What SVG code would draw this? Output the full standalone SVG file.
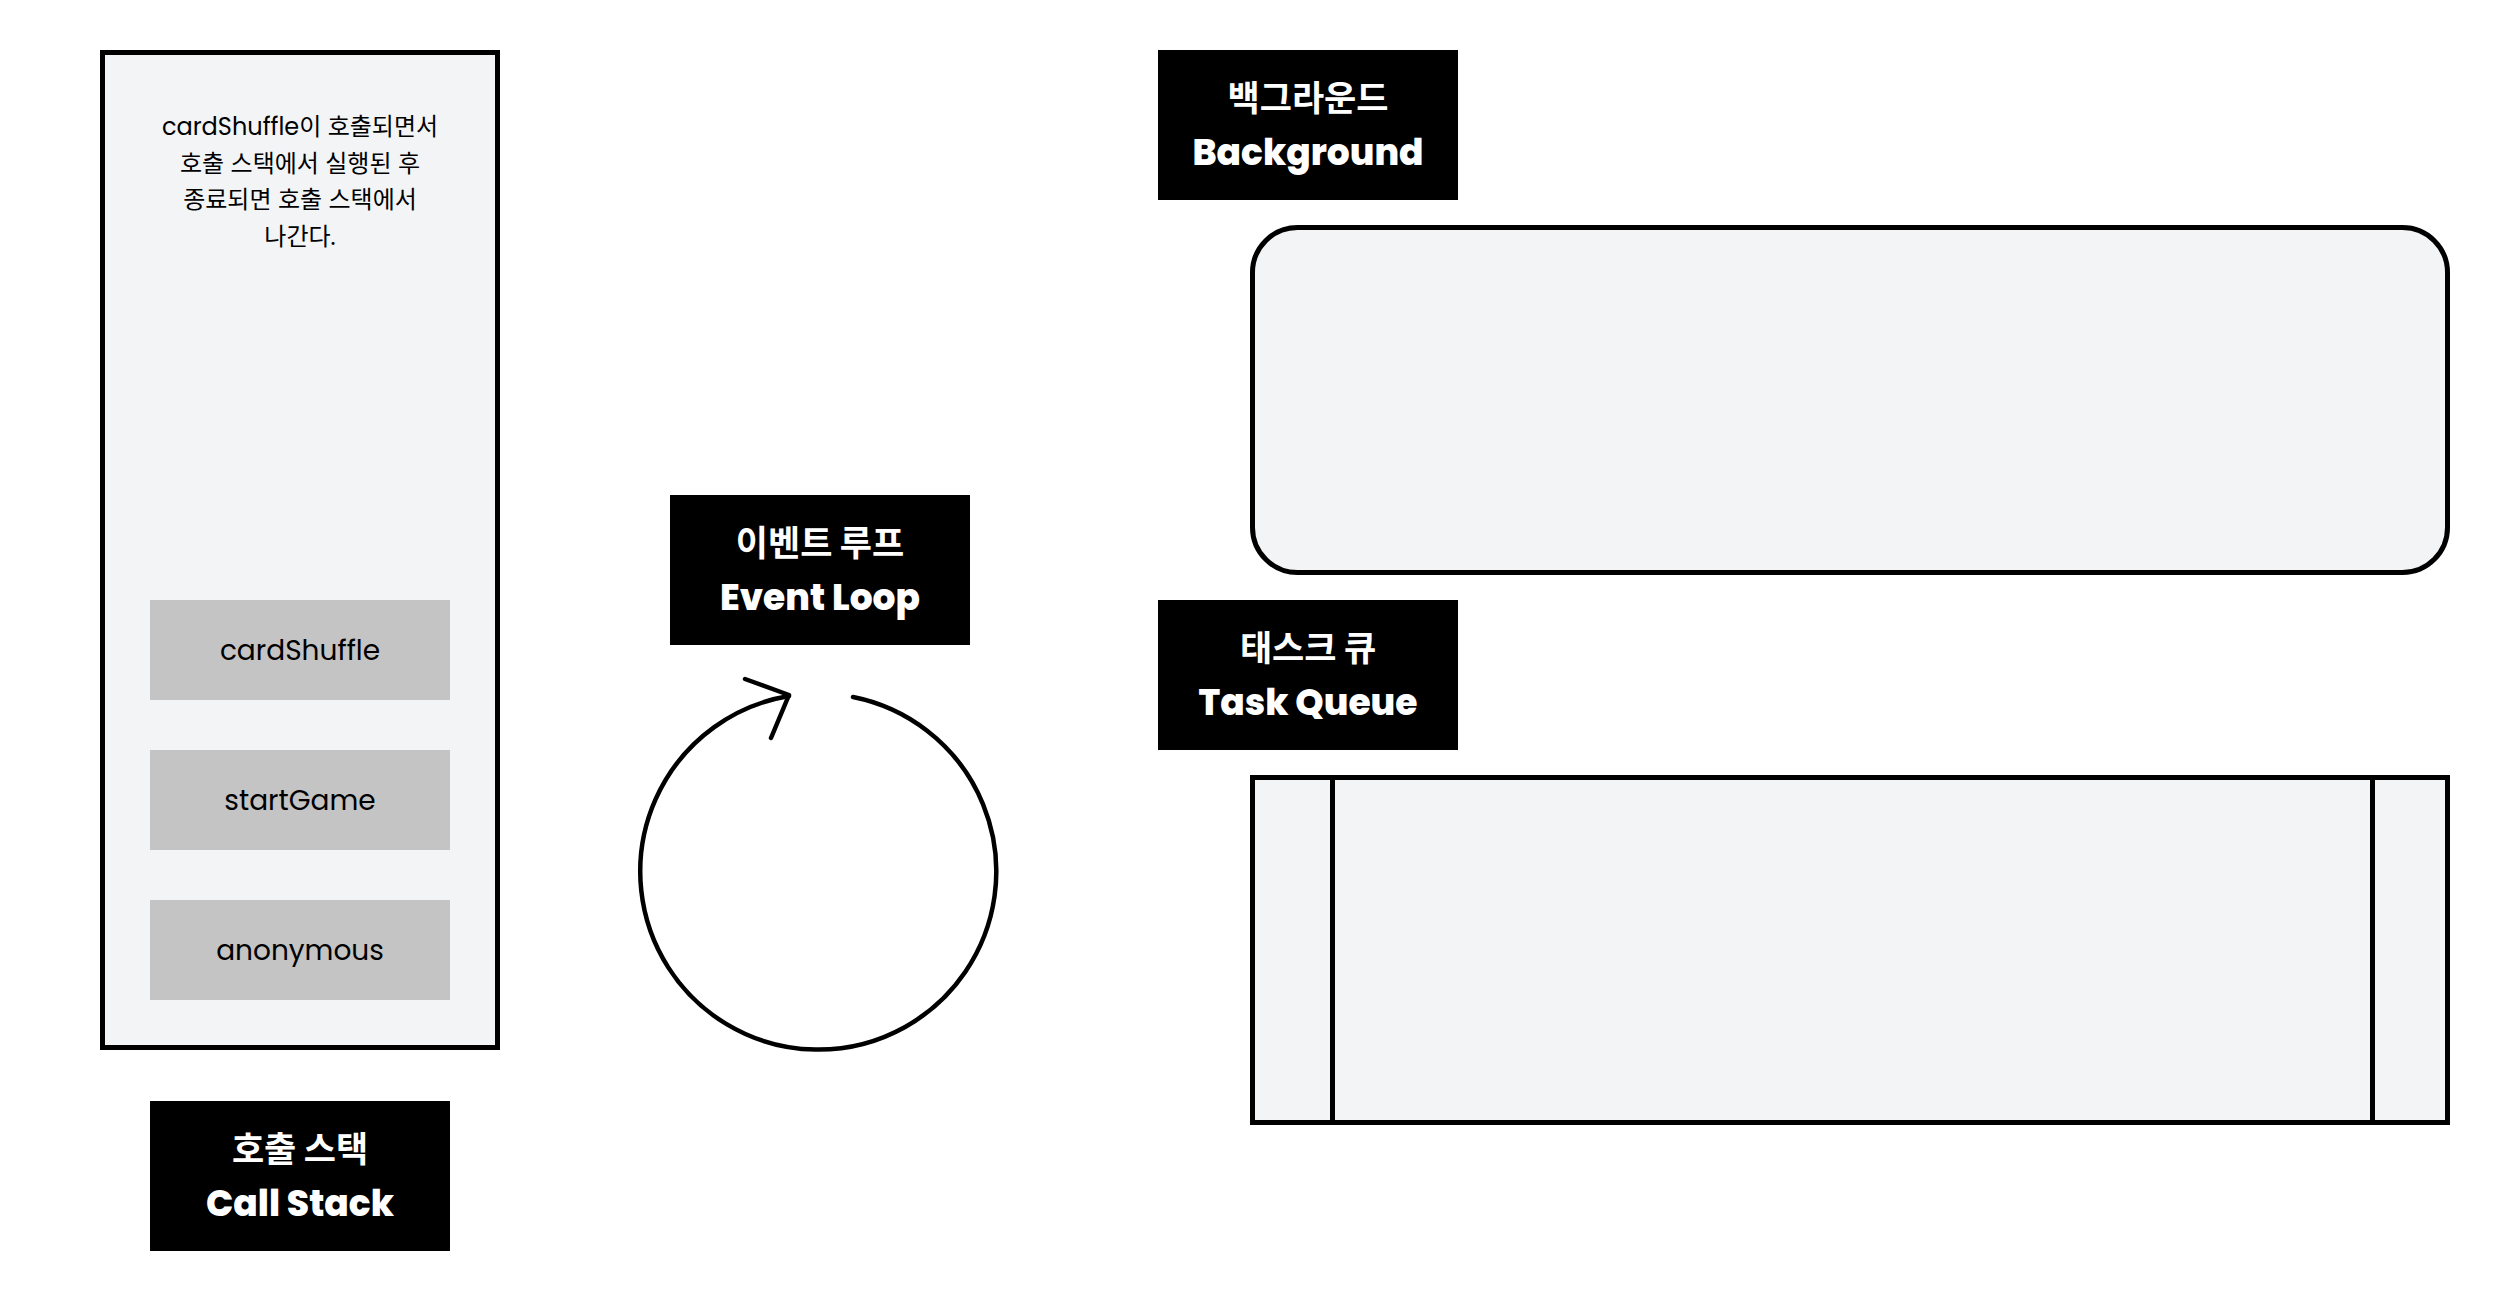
<svg xmlns="http://www.w3.org/2000/svg" width="2500" height="1300" viewBox="0 0 2500 1300">
  <style>
    .panel { fill: #f3f4f6; stroke: #000; stroke-width: 5; }
    .frame { fill: #c4c4c4; }
    .label { fill: #000; }
    .frame-text { font-family: Poppins, Inter, "Noto Sans CJK KR", sans-serif; font-size: 28px; fill: #000; text-anchor: middle; }
    .desc { font-family: Poppins, Inter, "Noto Sans CJK KR", sans-serif; font-size: 24px; fill: #000; text-anchor: middle; }
    .ko { font-family: Poppins, Inter, "Noto Sans CJK KR", sans-serif; font-size: 35px; font-weight: 700; fill: #fff; text-anchor: middle; }
    .en { font-family: Poppins, Inter, "Noto Sans CJK KR", sans-serif; font-size: 36px; font-weight: 800; fill: #fff; text-anchor: middle; }
    .line { fill: none; stroke: #000; stroke-width: 4.5; stroke-linecap: round; stroke-linejoin: round; }
  </style>
  <rect width="2500" height="1300" fill="#fff"/>

  <g id="call-stack">
    <rect class="panel" x="102.5" y="52.5" width="395" height="995"/>
    <text class="desc" x="300" y="135">cardShuffle이 호출되면서</text>
    <text class="desc" x="300" y="171.5">호출 스택에서 실행된 후</text>
    <text class="desc" x="300" y="208">종료되면 호출 스택에서</text>
    <text class="desc" x="300" y="244.5">나간다.</text>
  </g>
  <g id="frame-cardShuffle">
    <rect class="frame" x="150" y="600" width="300" height="100"/>
    <text class="frame-text" x="300" y="660">cardShuffle</text>
  </g>
  <g id="frame-startGame">
    <rect class="frame" x="150" y="750" width="300" height="100"/>
    <text class="frame-text" x="300" y="810">startGame</text>
  </g>
  <g id="frame-anonymous">
    <rect class="frame" x="150" y="900" width="300" height="100"/>
    <text class="frame-text" x="300" y="960">anonymous</text>
  </g>
  <g id="label-call-stack">
    <rect class="label" x="150" y="1101" width="300" height="150"/>
    <text class="ko" x="300" y="1162">호출 스택</text>
    <text class="en" x="300" y="1216">Call Stack</text>
  </g>

  <g id="label-event-loop">
    <rect class="label" x="670" y="495" width="300" height="150"/>
    <text class="ko" x="820" y="556">이벤트 루프</text>
    <text class="en" x="820" y="610">Event Loop</text>
  </g>

  <g id="label-background">
    <rect class="label" x="1158" y="50" width="300" height="150"/>
    <text class="ko" x="1308" y="111">백그라운드</text>
    <text class="en" x="1308" y="165">Background</text>
  </g>
  <g id="background">
    <rect class="panel" x="1252.5" y="227.5" width="1195" height="345" rx="45" ry="45"/>
  </g>

  <g id="label-task-queue">
    <rect class="label" x="1158" y="600" width="300" height="150"/>
    <text class="ko" x="1308" y="661">태스크 큐</text>
    <text class="en" x="1308" y="715">Task Queue</text>
  </g>
  <g id="task-queue">
    <rect class="panel" x="1252.5" y="777.5" width="1195" height="345"/>
    <line x1="1332.5" y1="777.5" x2="1332.5" y2="1122.5" stroke="#000" stroke-width="5"/>
    <line x1="2372.5" y1="777.5" x2="2372.5" y2="1122.5" stroke="#000" stroke-width="5"/>
  </g>

  <g id="connectors">
    <path id="event-loop-cycle" class="line" d="M 853 697 A 178 178 0 1 1 789 696"/>
    <path id="event-loop-arrowhead" class="line" d="M 745 679 L 789 695 L 771 738"/>
  </g>
</svg>
